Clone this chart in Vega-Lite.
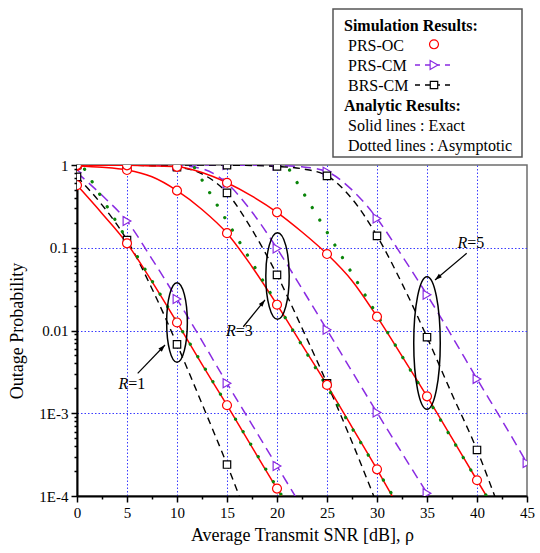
{
  "$schema": "https://vega.github.io/schema/vega-lite/v6.json",
  "width": 450,
  "height": 331,
  "autosize": {"type": "none"},
  "padding": {"left": 77, "top": 165, "right": 13, "bottom": 57},
  "background": "white",
  "config": {
    "font": "Liberation Serif",
    "axis": {"labelFont": "Liberation Serif", "titleFont": "Liberation Serif"},
    "text": {"font": "Liberation Serif"},
    "view": {"stroke": "#6e6e6e", "strokeWidth": 1.5}
  },
  "datasets": {
    "curves": [
      {"R": 1, "curve": "PRS-OC", "x": 0, "y": 0.57},
      {"R": 1, "curve": "PRS-OC", "x": 2.5, "y": 0.26},
      {"R": 1, "curve": "PRS-OC", "x": 5, "y": 0.113},
      {"R": 1, "curve": "PRS-OC", "x": 7.5, "y": 0.039},
      {"R": 1, "curve": "PRS-OC", "x": 10, "y": 0.0125},
      {"R": 1, "curve": "PRS-OC", "x": 12.5, "y": 0.0039},
      {"R": 1, "curve": "PRS-OC", "x": 15, "y": 0.00125},
      {"R": 1, "curve": "PRS-OC", "x": 17.5, "y": 0.00039},
      {"R": 1, "curve": "PRS-OC", "x": 20, "y": 0.000123},
      {"R": 1, "curve": "PRS-OC", "x": 21, "y": 0.000079},
      {"R": 3, "curve": "PRS-OC", "x": 0, "y": 0.975},
      {"R": 3, "curve": "PRS-OC", "x": 2.5, "y": 0.94},
      {"R": 3, "curve": "PRS-OC", "x": 5, "y": 0.87},
      {"R": 3, "curve": "PRS-OC", "x": 7.5, "y": 0.72},
      {"R": 3, "curve": "PRS-OC", "x": 10, "y": 0.49},
      {"R": 3, "curve": "PRS-OC", "x": 12.5, "y": 0.29},
      {"R": 3, "curve": "PRS-OC", "x": 15, "y": 0.15},
      {"R": 3, "curve": "PRS-OC", "x": 17.5, "y": 0.059},
      {"R": 3, "curve": "PRS-OC", "x": 20, "y": 0.0205},
      {"R": 3, "curve": "PRS-OC", "x": 22.5, "y": 0.0067},
      {"R": 3, "curve": "PRS-OC", "x": 25, "y": 0.0022},
      {"R": 3, "curve": "PRS-OC", "x": 27.5, "y": 0.00068},
      {"R": 3, "curve": "PRS-OC", "x": 30, "y": 0.00021},
      {"R": 3, "curve": "PRS-OC", "x": 32, "y": 0.000079},
      {"R": 5, "curve": "PRS-OC", "x": 0, "y": 0.998},
      {"R": 5, "curve": "PRS-OC", "x": 5, "y": 0.99},
      {"R": 5, "curve": "PRS-OC", "x": 7.5, "y": 0.975},
      {"R": 5, "curve": "PRS-OC", "x": 10, "y": 0.95},
      {"R": 5, "curve": "PRS-OC", "x": 12.5, "y": 0.81},
      {"R": 5, "curve": "PRS-OC", "x": 15, "y": 0.61},
      {"R": 5, "curve": "PRS-OC", "x": 17.5, "y": 0.42},
      {"R": 5, "curve": "PRS-OC", "x": 20, "y": 0.268},
      {"R": 5, "curve": "PRS-OC", "x": 22.5, "y": 0.155},
      {"R": 5, "curve": "PRS-OC", "x": 25, "y": 0.084},
      {"R": 5, "curve": "PRS-OC", "x": 27.5, "y": 0.04},
      {"R": 5, "curve": "PRS-OC", "x": 30, "y": 0.0147},
      {"R": 5, "curve": "PRS-OC", "x": 32.5, "y": 0.0049},
      {"R": 5, "curve": "PRS-OC", "x": 35, "y": 0.0016},
      {"R": 5, "curve": "PRS-OC", "x": 37.5, "y": 0.0005},
      {"R": 5, "curve": "PRS-OC", "x": 40, "y": 0.000155},
      {"R": 5, "curve": "PRS-OC", "x": 41.2, "y": 0.000089},
      {"R": 1, "curve": "PRS-CM", "x": 0, "y": 0.81},
      {"R": 1, "curve": "PRS-CM", "x": 2.5, "y": 0.43},
      {"R": 1, "curve": "PRS-CM", "x": 5, "y": 0.21},
      {"R": 1, "curve": "PRS-CM", "x": 7.5, "y": 0.073},
      {"R": 1, "curve": "PRS-CM", "x": 10, "y": 0.024},
      {"R": 1, "curve": "PRS-CM", "x": 12.5, "y": 0.0075},
      {"R": 1, "curve": "PRS-CM", "x": 15, "y": 0.0023},
      {"R": 1, "curve": "PRS-CM", "x": 17.5, "y": 0.00073},
      {"R": 1, "curve": "PRS-CM", "x": 20, "y": 0.00023},
      {"R": 1, "curve": "PRS-CM", "x": 22, "y": 0.000092},
      {"R": 3, "curve": "PRS-CM", "x": 0, "y": 1},
      {"R": 3, "curve": "PRS-CM", "x": 5, "y": 0.999},
      {"R": 3, "curve": "PRS-CM", "x": 10, "y": 0.985},
      {"R": 3, "curve": "PRS-CM", "x": 12.5, "y": 0.9},
      {"R": 3, "curve": "PRS-CM", "x": 15, "y": 0.6},
      {"R": 3, "curve": "PRS-CM", "x": 17.5, "y": 0.27},
      {"R": 3, "curve": "PRS-CM", "x": 20, "y": 0.098},
      {"R": 3, "curve": "PRS-CM", "x": 22.5, "y": 0.032},
      {"R": 3, "curve": "PRS-CM", "x": 25, "y": 0.0102},
      {"R": 3, "curve": "PRS-CM", "x": 27.5, "y": 0.0032},
      {"R": 3, "curve": "PRS-CM", "x": 30, "y": 0.00102},
      {"R": 3, "curve": "PRS-CM", "x": 32.5, "y": 0.00033},
      {"R": 3, "curve": "PRS-CM", "x": 35, "y": 0.000108},
      {"R": 3, "curve": "PRS-CM", "x": 35.5, "y": 0.000086},
      {"R": 5, "curve": "PRS-CM", "x": 0, "y": 1},
      {"R": 5, "curve": "PRS-CM", "x": 5, "y": 1},
      {"R": 5, "curve": "PRS-CM", "x": 10, "y": 0.999},
      {"R": 5, "curve": "PRS-CM", "x": 15, "y": 0.997},
      {"R": 5, "curve": "PRS-CM", "x": 17.5, "y": 0.993},
      {"R": 5, "curve": "PRS-CM", "x": 20, "y": 0.985},
      {"R": 5, "curve": "PRS-CM", "x": 22.5, "y": 0.95},
      {"R": 5, "curve": "PRS-CM", "x": 25, "y": 0.83},
      {"R": 5, "curve": "PRS-CM", "x": 27.5, "y": 0.5},
      {"R": 5, "curve": "PRS-CM", "x": 30, "y": 0.226},
      {"R": 5, "curve": "PRS-CM", "x": 32.5, "y": 0.08},
      {"R": 5, "curve": "PRS-CM", "x": 35, "y": 0.027},
      {"R": 5, "curve": "PRS-CM", "x": 37.5, "y": 0.0085},
      {"R": 5, "curve": "PRS-CM", "x": 40, "y": 0.0026},
      {"R": 5, "curve": "PRS-CM", "x": 42.5, "y": 0.00082},
      {"R": 5, "curve": "PRS-CM", "x": 45, "y": 0.00025},
      {"R": 1, "curve": "BRS-CM", "x": 0, "y": 0.72},
      {"R": 1, "curve": "BRS-CM", "x": 2.5, "y": 0.33},
      {"R": 1, "curve": "BRS-CM", "x": 5, "y": 0.124},
      {"R": 1, "curve": "BRS-CM", "x": 7.5, "y": 0.032},
      {"R": 1, "curve": "BRS-CM", "x": 10, "y": 0.0068},
      {"R": 1, "curve": "BRS-CM", "x": 12.5, "y": 0.0013},
      {"R": 1, "curve": "BRS-CM", "x": 15, "y": 0.00024},
      {"R": 1, "curve": "BRS-CM", "x": 16.4, "y": 0.000088},
      {"R": 3, "curve": "BRS-CM", "x": 0, "y": 1},
      {"R": 3, "curve": "BRS-CM", "x": 5, "y": 0.995},
      {"R": 3, "curve": "BRS-CM", "x": 7.5, "y": 0.98},
      {"R": 3, "curve": "BRS-CM", "x": 10, "y": 0.94},
      {"R": 3, "curve": "BRS-CM", "x": 12.5, "y": 0.78},
      {"R": 3, "curve": "BRS-CM", "x": 15, "y": 0.46},
      {"R": 3, "curve": "BRS-CM", "x": 17.5, "y": 0.165},
      {"R": 3, "curve": "BRS-CM", "x": 20, "y": 0.047},
      {"R": 3, "curve": "BRS-CM", "x": 22.5, "y": 0.0107},
      {"R": 3, "curve": "BRS-CM", "x": 25, "y": 0.0023},
      {"R": 3, "curve": "BRS-CM", "x": 27.5, "y": 0.00045},
      {"R": 3, "curve": "BRS-CM", "x": 29.9, "y": 0.000085},
      {"R": 5, "curve": "BRS-CM", "x": 0, "y": 1},
      {"R": 5, "curve": "BRS-CM", "x": 5, "y": 1},
      {"R": 5, "curve": "BRS-CM", "x": 10, "y": 0.999},
      {"R": 5, "curve": "BRS-CM", "x": 15, "y": 0.995},
      {"R": 5, "curve": "BRS-CM", "x": 17.5, "y": 0.985},
      {"R": 5, "curve": "BRS-CM", "x": 20, "y": 0.96},
      {"R": 5, "curve": "BRS-CM", "x": 22.5, "y": 0.9},
      {"R": 5, "curve": "BRS-CM", "x": 25, "y": 0.74},
      {"R": 5, "curve": "BRS-CM", "x": 27.5, "y": 0.39},
      {"R": 5, "curve": "BRS-CM", "x": 30, "y": 0.139},
      {"R": 5, "curve": "BRS-CM", "x": 32.5, "y": 0.037},
      {"R": 5, "curve": "BRS-CM", "x": 35, "y": 0.0083},
      {"R": 5, "curve": "BRS-CM", "x": 37.5, "y": 0.0017},
      {"R": 5, "curve": "BRS-CM", "x": 40, "y": 0.00036},
      {"R": 5, "curve": "BRS-CM", "x": 42, "y": 0.000084}
    ],
    "asym": [
      {"R": 1, "x": 0, "y": 1.26},
      {"R": 1, "x": 21, "y": 0.0000794},
      {"R": 3, "x": 11, "y": 1.318},
      {"R": 3, "x": 32, "y": 0.0000832},
      {"R": 5, "x": 20.5, "y": 1.23},
      {"R": 5, "x": 41.5, "y": 0.0000776}
    ],
    "ellipses": [
      {"R": 1, "x": 10, "y": 0.0125},
      {"R": 3, "x": 20.05, "y": 0.0456},
      {"R": 5, "x": 35, "y": 0.00706}
    ],
    "arrows": [
      {"R": 1, "x": 8.8, "y": 0.00668, "x2": 6.07, "y2": 0.00304},
      {"R": 3, "x": 18.8, "y": 0.0234, "x2": 16.63, "y2": 0.0111},
      {"R": 5, "x": 35.8, "y": 0.0408, "x2": 38.97, "y2": 0.0857}
    ],
    "labels": [
      {"R": "R", "eq": "=1", "x": 5.13, "y": 0.001946},
      {"R": "R", "eq": "=3", "x": 15.87, "y": 0.00859},
      {"R": "R", "eq": "=5", "x": 39.03, "y": 0.0985}
    ],
    "legend_box": [
      {"x": 25.6, "x2": 44.5, "y": 76.8, "y2": 1.249}
    ],
    "legend_text": [
      {"text": "Simulation Results:", "kind": "header", "x": 26.7, "y": 41.6},
      {"text": "PRS-OC", "kind": "item", "x": 27.1, "y": 24.06},
      {"text": "PRS-CM", "kind": "item", "x": 27.1, "y": 13.79},
      {"text": "BRS-CM", "kind": "item", "x": 27.1, "y": 7.91},
      {"text": "Analytic Results:", "kind": "header", "x": 26.7, "y": 4.494},
      {"text": "Solid lines : Exact", "kind": "item", "x": 27.1, "y": 2.576},
      {"text": "Dotted lines : Asymptotic", "kind": "item", "x": 27.1, "y": 1.489}
    ],
    "legend_sym": [
      {"curve": "PRS-OC", "x": 35.7, "y": 28.75, "lx": 35.7, "rx": 35.7},
      {"curve": "PRS-CM", "x": 35.7, "y": 16.16, "lx": 33.8, "rx": 37.5},
      {"curve": "BRS-CM", "x": 35.7, "y": 9.264, "lx": 33.8, "rx": 37.5}
    ]
  },
  "encoding": {
    "x": {
      "field": "x",
      "type": "quantitative",
      "scale": {"domain": [0, 45], "nice": false, "zero": false},
      "axis": {
        "title": "Average Transmit SNR [dB],  ρ",
        "values": [0, 2.5, 5, 7.5, 10, 12.5, 15, 17.5, 20, 22.5, 25, 27.5, 30, 32.5, 35, 37.5, 40, 42.5, 45],
        "labelExpr": "datum.value % 5 === 0 ? datum.label : ''",
        "tickSize": {"condition": {"test": "datum.value % 5 === 0", "value": 6}, "value": 3},
        "tickColor": "black",
        "tickWidth": 1.5,
        "domainColor": "black",
        "domainWidth": 2,
        "grid": true,
        "gridColor": "#3a3aff",
        "gridDash": [1.5, 2],
        "gridWidth": 1,
        "gridOpacity": {"condition": {"test": "datum.value % 5 === 0 && datum.value > 0 && datum.value < 45", "value": 1}, "value": 0},
        "labelFont": "Liberation Serif",
        "labelFontSize": 15,
        "labelColor": "black",
        "labelPadding": 3,
        "labelFlush": false,
        "labelOverlap": false,
        "titleFont": "Liberation Serif",
        "titleFontSize": 18,
        "titleFontWeight": "normal",
        "titleColor": "black",
        "titlePadding": 6
      }
    },
    "y": {
      "field": "y",
      "type": "quantitative",
      "scale": {"type": "log", "domain": [0.0001, 1], "nice": false},
      "axis": {
        "title": "Outage Probability",
        "values": [0.0001, 0.0002, 0.0003, 0.0004, 0.0005, 0.0006, 0.0007, 0.0008, 0.0009, 0.001, 0.002, 0.003, 0.004, 0.005, 0.006, 0.007, 0.008, 0.009, 0.01, 0.02, 0.03, 0.04, 0.05, 0.06, 0.07, 0.08, 0.09, 0.1, 0.2, 0.3, 0.4, 0.5, 0.6, 0.7, 0.8, 0.9, 1],
        "labelExpr": "datum.value === 1 ? '1' : datum.value === 0.1 ? '0.1' : datum.value === 0.01 ? '0.01' : datum.value === 0.001 ? '1E-3' : datum.value === 0.0001 ? '1E-4' : ''",
        "tickSize": {"condition": {"test": "datum.value === 1 || datum.value === 0.1 || datum.value === 0.01 || datum.value === 0.001 || datum.value === 0.0001", "value": 6}, "value": 3},
        "tickColor": "black",
        "tickWidth": 1.5,
        "domainColor": "black",
        "domainWidth": 2,
        "grid": true,
        "gridColor": "#3a3aff",
        "gridDash": [1.5, 2],
        "gridWidth": 1,
        "gridOpacity": {"condition": {"test": "datum.value === 0.1 || datum.value === 0.01 || datum.value === 0.001", "value": 1}, "value": 0},
        "labelFont": "Liberation Serif",
        "labelFontSize": 15,
        "labelColor": "black",
        "labelPadding": 3,
        "labelFlush": false,
        "labelOverlap": false,
        "titleFont": "Liberation Serif",
        "titleFontSize": 18,
        "titleFontWeight": "normal",
        "titleColor": "black",
        "titlePadding": 12
      }
    }
  },
  "layer": [
    {
      "data": {"name": "curves"},
      "transform": [{"filter": "datum.curve === 'PRS-CM'"}],
      "mark": {"type": "line", "color": "#8a2be2", "strokeWidth": 1.5, "strokeDash": [10, 6], "interpolate": "monotone", "clip": true},
      "encoding": {"detail": {"field": "R", "type": "nominal"}}
    },
    {
      "data": {"name": "curves"},
      "transform": [{"filter": "datum.curve === 'BRS-CM'"}],
      "mark": {"type": "line", "color": "black", "strokeWidth": 1.4, "strokeDash": [7, 5], "interpolate": "monotone", "clip": true},
      "encoding": {"detail": {"field": "R", "type": "nominal"}}
    },
    {
      "data": {"name": "curves"},
      "transform": [{"filter": "datum.curve === 'PRS-OC'"}],
      "mark": {"type": "line", "color": "#ff0000", "strokeWidth": 1.5, "interpolate": "monotone", "clip": true},
      "encoding": {"detail": {"field": "R", "type": "nominal"}}
    },
    {
      "data": {"name": "asym"},
      "mark": {"type": "line", "color": "#0a850a", "strokeWidth": 3.2, "strokeDash": [0.1, 14.5], "strokeCap": "round", "clip": true},
      "encoding": {"detail": {"field": "R", "type": "nominal"}}
    },
    {
      "data": {"name": "curves"},
      "transform": [{"filter": "datum.curve === 'PRS-CM' && datum.x % 5 === 0"}],
      "mark": {"type": "point", "shape": "triangle-right", "size": 80, "fill": "white", "fillOpacity": 1, "stroke": "#8a2be2", "strokeWidth": 1.2, "opacity": 1, "clip": true}
    },
    {
      "data": {"name": "curves"},
      "transform": [{"filter": "datum.curve === 'BRS-CM' && datum.x % 5 === 0"}],
      "mark": {"type": "point", "shape": "square", "size": 55, "fill": "white", "fillOpacity": 1, "stroke": "black", "strokeWidth": 1.2, "opacity": 1, "clip": true}
    },
    {
      "data": {"name": "curves"},
      "transform": [{"filter": "datum.curve === 'PRS-OC' && datum.x % 5 === 0"}],
      "mark": {"type": "point", "shape": "circle", "size": 80, "fill": "white", "fillOpacity": 1, "stroke": "#ff0000", "strokeWidth": 1.2, "opacity": 1, "clip": true}
    },
    {
      "data": {"name": "ellipses"},
      "transform": [{"filter": "datum.R === 1"}],
      "mark": {"type": "point", "shape": "M0,-1 A0.26,1 0 1,1 0,1 A0.26,1 0 1,1 0,-1 Z", "size": 6336, "filled": false, "stroke": "black", "strokeWidth": 1.5, "opacity": 1}
    },
    {
      "data": {"name": "ellipses"},
      "transform": [{"filter": "datum.R === 3"}],
      "mark": {"type": "point", "shape": "M0,-1 A0.27,1 0 1,1 0,1 A0.27,1 0 1,1 0,-1 Z", "size": 7500, "filled": false, "stroke": "black", "strokeWidth": 1.5, "opacity": 1}
    },
    {
      "data": {"name": "ellipses"},
      "transform": [{"filter": "datum.R === 5"}],
      "mark": {"type": "point", "shape": "M0,-1 A0.2,1 0 1,1 0,1 A0.2,1 0 1,1 0,-1 Z", "size": 17583, "filled": false, "stroke": "black", "strokeWidth": 1.5, "opacity": 1}
    },
    {
      "data": {"name": "arrows"},
      "mark": {"type": "rule", "color": "black", "strokeWidth": 1.2},
      "encoding": {"x2": {"field": "x2"}, "y2": {"field": "y2"}}
    },
    {
      "data": {"name": "arrows"},
      "transform": [{"filter": "datum.R === 1"}],
      "mark": {"type": "point", "shape": "M0,0 L-0.4,1.2 L0.4,1.2 Z", "size": 136, "angle": 44, "filled": true, "color": "black", "opacity": 1}
    },
    {
      "data": {"name": "arrows"},
      "transform": [{"filter": "datum.R === 3"}],
      "mark": {"type": "point", "shape": "M0,0 L-0.4,1.2 L0.4,1.2 Z", "size": 136, "angle": 39, "filled": true, "color": "black", "opacity": 1}
    },
    {
      "data": {"name": "arrows"},
      "transform": [{"filter": "datum.R === 5"}],
      "mark": {"type": "point", "shape": "M0,0 L-0.4,1.2 L0.4,1.2 Z", "size": 136, "angle": 230, "filled": true, "color": "black", "opacity": 1}
    },
    {
      "data": {"name": "labels"},
      "mark": {"type": "text", "align": "right", "baseline": "alphabetic", "font": "Liberation Serif", "fontSize": 16, "fontStyle": "italic", "color": "black"},
      "encoding": {"text": {"field": "R"}}
    },
    {
      "data": {"name": "labels"},
      "mark": {"type": "text", "align": "left", "baseline": "alphabetic", "font": "Liberation Serif", "fontSize": 16, "color": "black"},
      "encoding": {"text": {"field": "eq"}}
    },
    {
      "data": {"name": "legend_box"},
      "mark": {"type": "rect", "fill": "white", "stroke": "#555555", "strokeWidth": 1.5},
      "encoding": {"x2": {"field": "x2"}, "y2": {"field": "y2"}}
    },
    {
      "data": {"name": "legend_text"},
      "transform": [{"filter": "datum.kind === 'header'"}],
      "mark": {"type": "text", "align": "left", "baseline": "alphabetic", "font": "Liberation Serif", "fontSize": 16, "fontWeight": "bold", "color": "black"},
      "encoding": {"text": {"field": "text"}}
    },
    {
      "data": {"name": "legend_text"},
      "transform": [{"filter": "datum.kind === 'item'"}],
      "mark": {"type": "text", "align": "left", "baseline": "alphabetic", "font": "Liberation Serif", "fontSize": 16, "color": "black"},
      "encoding": {"text": {"field": "text"}}
    },
    {
      "data": {"name": "legend_sym"},
      "transform": [{"filter": "datum.curve === 'PRS-CM'"}],
      "mark": {"type": "rule", "color": "#8a2be2", "strokeWidth": 1.5, "strokeDash": [5, 5]},
      "encoding": {"x": {"field": "lx", "type": "quantitative"}, "x2": {"field": "rx"}}
    },
    {
      "data": {"name": "legend_sym"},
      "transform": [{"filter": "datum.curve === 'BRS-CM'"}],
      "mark": {"type": "rule", "color": "black", "strokeWidth": 1.5, "strokeDash": [5, 5]},
      "encoding": {"x": {"field": "lx", "type": "quantitative"}, "x2": {"field": "rx"}}
    },
    {
      "data": {"name": "legend_sym"},
      "transform": [{"filter": "datum.curve === 'PRS-OC'"}],
      "mark": {"type": "point", "shape": "circle", "size": 80, "fill": "white", "fillOpacity": 1, "stroke": "#ff0000", "strokeWidth": 1.2, "opacity": 1}
    },
    {
      "data": {"name": "legend_sym"},
      "transform": [{"filter": "datum.curve === 'PRS-CM'"}],
      "mark": {"type": "point", "shape": "triangle-right", "size": 80, "fill": "white", "fillOpacity": 1, "stroke": "#8a2be2", "strokeWidth": 1.2, "opacity": 1}
    },
    {
      "data": {"name": "legend_sym"},
      "transform": [{"filter": "datum.curve === 'BRS-CM'"}],
      "mark": {"type": "point", "shape": "square", "size": 55, "fill": "white", "fillOpacity": 1, "stroke": "black", "strokeWidth": 1.2, "opacity": 1}
    }
  ]
}
